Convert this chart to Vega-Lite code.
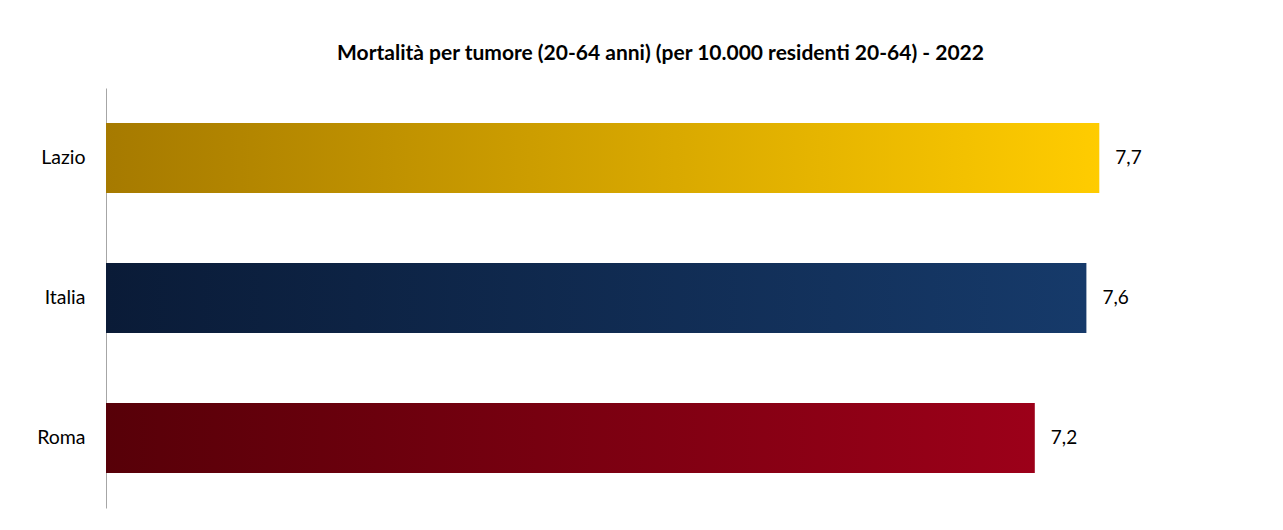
{
  "$schema": "https://vega.github.io/schema/vega-lite/v6.json",
  "width": 1161,
  "height": 420,
  "autosize": {"type": "none"},
  "padding": {"left": 106, "top": 88, "right": 16, "bottom": 22},
  "background": "white",
  "config": {
    "view": {"stroke": null},
    "font": "Lato",
    "locale": {
      "number": {"decimal": ",", "thousands": ".", "grouping": [3], "currency": ["€", ""]}
    }
  },
  "title": {
    "text": "Mortalità per tumore (20-64 anni) (per 10.000 residenti 20-64) - 2022",
    "font": "Lato",
    "fontSize": 21,
    "fontWeight": "bold",
    "color": "#000000",
    "anchor": "middle",
    "frame": "group",
    "dx": -26,
    "offset": 24
  },
  "data": {
    "values": [
      {"area": "Lazio", "value": 7.7},
      {"area": "Italia", "value": 7.6},
      {"area": "Roma", "value": 7.2}
    ]
  },
  "encoding": {
    "y": {
      "field": "area",
      "type": "nominal",
      "sort": null,
      "title": null,
      "scale": {"paddingInner": 0.5, "paddingOuter": 0.25},
      "axis": {
        "domainColor": "#A6A6A6",
        "domainWidth": 1,
        "ticks": false,
        "labelPadding": 21,
        "labelFont": "Lato",
        "labelFontSize": 19.5,
        "labelColor": "#000000"
      }
    },
    "x": {
      "field": "value",
      "type": "quantitative",
      "scale": {"domain": [0, 9]},
      "axis": null
    }
  },
  "layer": [
    {
      "transform": [{"filter": "datum.area === 'Lazio'"}],
      "mark": {
        "type": "bar",
        "color": {
          "gradient": "linear", "x1": 0, "x2": 1, "y1": 0, "y2": 0,
          "stops": [{"offset": 0, "color": "#A67A00"}, {"offset": 1, "color": "#FFCC00"}]
        }
      }
    },
    {
      "transform": [{"filter": "datum.area === 'Italia'"}],
      "mark": {
        "type": "bar",
        "color": {
          "gradient": "linear", "x1": 0, "x2": 1, "y1": 0, "y2": 0,
          "stops": [{"offset": 0, "color": "#0A1B37"}, {"offset": 1, "color": "#163A6A"}]
        }
      }
    },
    {
      "transform": [{"filter": "datum.area === 'Roma'"}],
      "mark": {
        "type": "bar",
        "color": {
          "gradient": "linear", "x1": 0, "x2": 1, "y1": 0, "y2": 0,
          "stops": [{"offset": 0, "color": "#570008"}, {"offset": 1, "color": "#9C0019"}]
        }
      }
    },
    {
      "mark": {"type": "text", "align": "left", "dx": 16, "fontSize": 19, "font": "Lato", "color": "#000000"},
      "encoding": {"text": {"field": "value", "type": "quantitative", "format": ".1f"}}
    }
  ]
}
